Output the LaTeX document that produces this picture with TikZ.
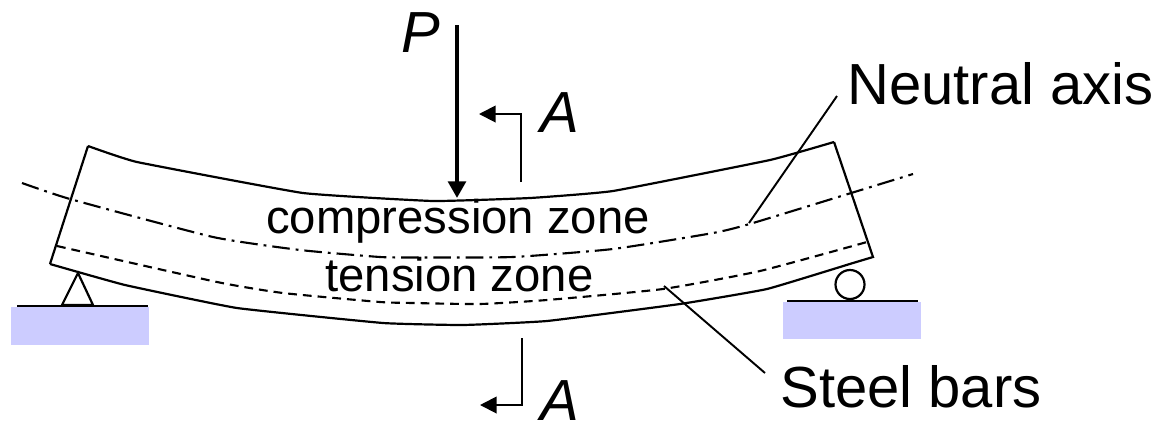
\documentclass[tikz,border=0pt]{standalone}
\usepackage{fontspec}
\setmainfont{Liberation Sans}
\usetikzlibrary{arrows.meta,positioning,calc}
\definecolor{rsupport}{HTML}{CCCCFF}
\tikzset{
  beamline/.style={black,line width=1.25pt,line join=miter},
  axisline/.style={black,line width=1.2pt,dash pattern=on 10pt off 3.4pt on 1.6pt off 3.4pt},
  barline/.style={black,line width=1.2pt,dash pattern=on 5pt off 3.4pt},
  leader/.style={black,line width=1.1pt},
  zonelabel/.style={anchor=base,inner sep=0pt,font=\fontsize{26.9}{30}\selectfont},
  biglabel/.style={anchor=base west,inner sep=0pt,font=\fontsize{33}{36}\selectfont},
  loadlabel/.style={anchor=base west,inner sep=0pt,font=\fontsize{33}{36}\selectfont\itshape},
  secarrow/.style={line width=1.1pt,-{Triangle[length=9.5pt,width=9.5pt]}},
  loadarrow/.style={line width=2.3pt,-{Triangle[length=9.5pt,width=10pt]}},
  block/.style={fill=rsupport,draw=none}
}
\begin{document}
\begin{tikzpicture}[x=0.02cm,y=-0.02cm]
  \useasboundingbox (0,0) rectangle (1160,424);

  % supports
  \fill[block] (11,307) rectangle (149,345);
  \fill[block] (783,302) rectangle (921,339);
  \draw[beamline] (17,306) -- (148,306);
  \draw[beamline] (787,301) -- (918,301);
  \draw[beamline] (78,273) -- (62,305) -- (93,305) -- cycle;
  \draw[beamline] (850,284.5) circle (14.5);

  % beam
  \draw[beamline] (88,146) -- (50,264)
    plot[smooth,tension=0.2] coordinates {(50,264) (125,285) (237,308) (383,323) (463,325) (547,321) (680,304) (767,289) (853,263) (873,257)}
    -- (834,142)
    plot[smooth,tension=0.2] coordinates {(834,142) (770,160) (613,191) (530,198) (433,201) (303,193) (137,162) (88,146)};
  \draw[axisline] plot[smooth,tension=0.3] coordinates {(22,183) (70,199) (213,237) (300,250) (380,257) (420,257.5) (513,257) (613,249) (713,233) (753,223) (913,174)};
  \draw[barline] plot[smooth,tension=0.3] coordinates {(57,246) (217,282) (283,293) (380,302) (413,303) (480,304) (547,300) (663,289) (760,271) (867,242)};

  % labels
  \node[zonelabel] (compzone) at (458,233) {compression zone};
  \node[zonelabel] (tenszone) at (459.5,291) {tension zone};
  \node[biglabel] (neutral) at (847,104) {Neutral axis};
  \node[biglabel] (steel) at (780,407) {Steel bars};
  \node[loadlabel] (load) at (401,52) {P};
  \node[loadlabel] (secup) at (540,132) {A};
  \node[loadlabel] (secdown) at (540,420) {A};

  % leaders
  \coordinate (neutralstart) at (837,96);
  \coordinate (neutralend) at (749,223);
  \coordinate (steelstart) at (765,373);
  \coordinate (steelend) at (664,286);
  \draw[leader] (neutralstart) -- (neutralend);
  \draw[leader] (steelstart) -- (steelend);

  % load and section marks
  \coordinate (loadtop) at (457,25);
  \coordinate (loadtip) at (457,198);
  \draw[loadarrow] (loadtop) -- (loadtip);
  \coordinate (uptail) at (521,182);
  \coordinate (uptip) at (479,114);
  \draw[secarrow] (uptail) |- (uptip);
  \coordinate (downtail) at (522,338);
  \coordinate (downtip) at (480,405);
  \draw[secarrow] (downtail) |- (downtip);
\end{tikzpicture}
\end{document}
